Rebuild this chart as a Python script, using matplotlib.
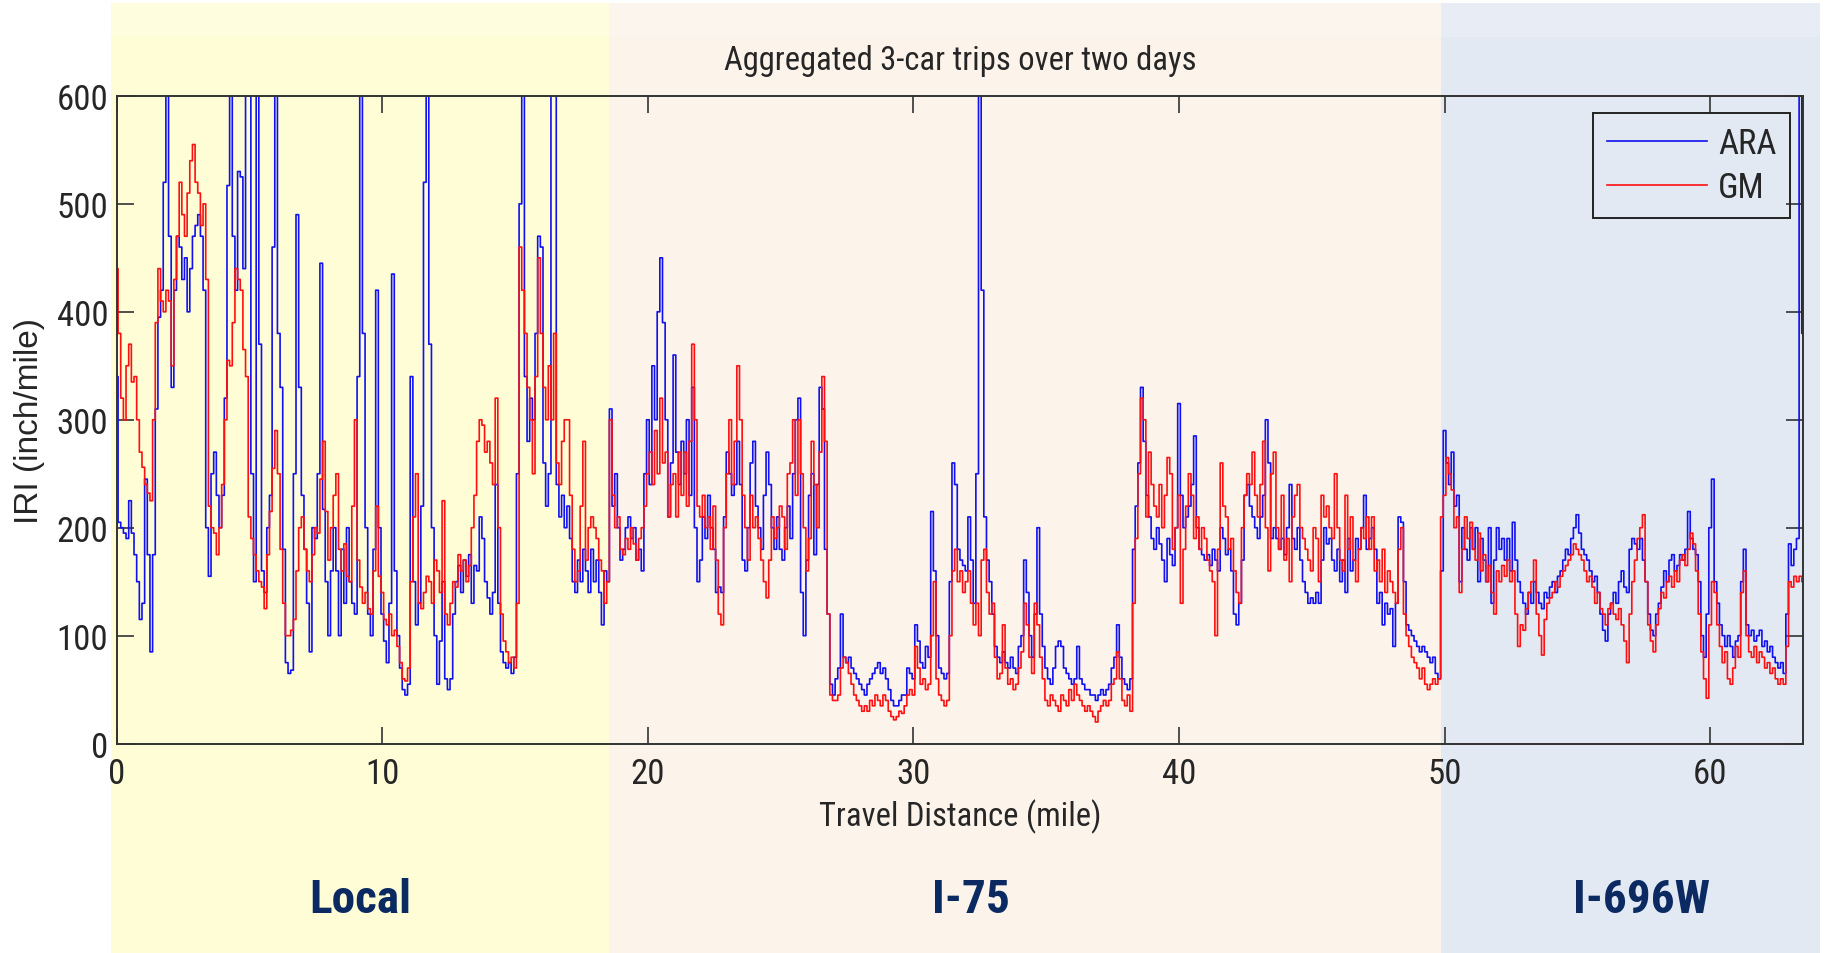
import numpy as np
import matplotlib
matplotlib.use("Agg")
import matplotlib.pyplot as plt
import matplotlib.transforms as mtransforms
from matplotlib import font_manager

# IRI readings every 0.1 mile, one row per mile, split by road section
ara_local = [
    340, 205, 200, 195, 190, 225, 195, 175, 150, 115,
    130, 245, 175, 85, 175, 310, 395, 420, 520, 600,
    470, 330, 420, 470, 460, 430, 450, 400, 440, 470,
    480, 490, 470, 420, 200, 155, 250, 270, 230, 200,
    230, 320, 517, 600, 470, 420, 530, 525, 440, 600,
    600, 250, 150, 600, 370, 160, 140, 200, 230, 460,
    600, 380, 330, 180, 75, 65, 68, 250, 490, 330,
    230, 180, 130, 85, 200, 190, 250, 445, 217, 150,
    100, 160, 200, 160, 100, 180, 130, 200, 150, 130,
    120, 340, 600, 380, 200, 120, 100, 180, 420, 200,
    120, 95, 75, 130, 435, 160, 100, 70, 50, 45,
    55, 340, 150, 110, 130, 220, 520, 600, 370, 200,
    100, 55, 95, 150, 60, 50, 60, 120, 150, 165,
    140, 170, 155, 175, 130, 165, 160, 210, 190, 150,
    135, 120, 140, 240, 130, 85, 75, 70, 75, 65,
    80, 250, 500, 600, 340, 280, 320, 300, 380, 470,
    460, 260, 220, 250, 600, 600, 240, 210, 230, 200,
    220, 190, 150, 140, 170, 150, 180, 160, 140, 180,
    150, 170, 140, 110, 160, 150,
]
gm_local = [
    440, 380, 320, 300, 350, 370, 335, 340, 300, 270,
    256, 240, 232, 225, 300, 390, 440, 410, 400, 420,
    410, 350, 430, 470, 520, 490, 470, 510, 540, 555,
    520, 510, 480, 500, 430, 220, 200, 195, 175, 200,
    240, 300, 355, 350, 390, 440, 430, 420, 365, 340,
    210, 190, 175, 160, 150, 145, 125, 175, 215, 255,
    290, 250, 180, 130, 100, 100, 105, 115, 160, 200,
    210, 180, 160, 150, 175, 200, 195, 245, 280, 215,
    170, 200, 230, 250, 180, 160, 185, 155, 150, 220,
    300, 170, 145, 130, 140, 125, 120, 160, 220, 155,
    140, 115, 110, 120, 100, 105, 90, 75, 60, 58,
    70, 150, 210, 250, 130, 125, 140, 155, 150, 130,
    170, 160, 140, 225, 120, 110, 130, 150, 145, 175,
    160, 170, 150, 165, 200, 230, 280, 300, 295, 270,
    280, 260, 240, 320, 200, 120, 95, 85, 75, 80,
    70, 130, 460, 420, 380, 330, 300, 250, 340, 450,
    380, 330, 300, 350, 300, 380, 260, 240, 280, 300,
    300, 230, 180, 150, 160, 220, 280, 170, 200, 210,
    200, 190, 170, 160, 130, 150,
]
ara_i75 = [
    310, 220, 250, 200,
    170, 180, 200, 210, 190, 200, 170, 180, 160, 250,
    300, 240, 350, 300, 400, 450, 390, 300, 210, 260,
    360, 270, 240, 280, 250, 300, 230, 330, 200, 150,
    170, 210, 190, 230, 200, 180, 140, 145, 140, 210,
    270, 250, 230, 240, 280, 240, 170, 160, 200, 260,
    280, 220, 200, 180, 230, 270, 240, 200, 180, 210,
    180, 170, 200, 220, 190, 250, 300, 320, 140, 100,
    170, 230, 250, 175, 240, 330, 310, 180, 120, 55,
    45, 60, 70, 120, 80, 75, 80, 70, 65, 60,
    55, 50, 45, 55, 60, 65, 70, 75, 65, 70,
    60, 50, 40, 35, 35, 40, 45, 45, 70, 65,
    60, 110, 95, 75, 70, 90, 80, 215, 160, 100,
    70, 65, 60, 65, 150, 260, 240, 180, 170, 165,
    160, 210, 170, 130, 250, 600, 420, 210, 170, 150,
    120, 90, 80, 75, 85, 75, 70, 80, 70, 65,
    90, 100, 170, 140, 100, 80, 120, 200, 120, 90,
    70, 60, 55, 70, 90, 95, 90, 70, 65, 60,
    55, 60, 90, 60, 55, 50, 50, 45, 45, 40,
    45, 50, 45, 50, 55, 70, 80, 110, 80, 60,
    55, 50, 60, 180, 220, 260, 330, 280, 230, 210,
    190, 180, 200, 185, 170, 150, 190, 175, 165, 200,
    315, 230, 200, 210, 220, 240, 285, 200, 180, 175,
    170, 175, 165, 180, 170, 160, 200, 190, 175, 180,
    160, 120, 110, 130, 170, 230, 240, 220, 210, 200,
    190, 210, 230, 300, 260, 190, 200, 190, 180, 190,
    175, 200, 240, 190, 180, 200, 170, 150, 140, 130,
    135, 130, 140, 130, 170, 200, 185, 190, 170, 160,
    180, 150, 170, 140, 190, 160, 170, 190, 180, 200,
    230, 180, 190, 200, 180, 130, 140, 110, 130, 120,
    125, 90, 130, 210, 205, 150, 110, 105, 100, 95,
    90, 85, 90, 85, 80, 75, 80, 65, 60, 160,
]
gm_i75 = [
    300, 230, 200, 210,
    180, 175, 190, 180, 200, 185, 170, 190, 200, 220,
    250, 270, 240, 290, 250, 320, 260, 270, 210, 240,
    250, 210, 270, 230, 270, 220, 280, 370, 300, 220,
    210, 230, 200, 210, 180, 220, 170, 120, 110, 200,
    250, 300, 240, 280, 350, 300, 230, 200, 170, 230,
    200, 210, 190, 170, 150, 135, 170, 210, 190, 200,
    220, 210, 180, 250, 260, 300, 230, 300, 250, 200,
    160, 190, 280, 240, 200, 270, 340, 280, 120, 45,
    40, 40, 45, 70, 80, 75, 65, 55, 45, 40,
    35, 30, 35, 30, 40, 35, 45, 40, 35, 45,
    40, 30, 25, 22, 25, 30, 28, 35, 45, 50,
    45, 90, 70, 55, 60, 50, 55, 100, 150, 60,
    45, 40, 35, 40, 100, 160, 180, 150, 160, 140,
    150, 160, 130, 110, 130, 100, 170, 180, 140, 120,
    130, 80, 60, 65, 110, 70, 55, 60, 50, 55,
    70, 85, 130, 110, 80, 65, 130, 110, 80, 60,
    40, 35, 45, 40, 35, 30, 45, 40, 35, 50,
    40, 55, 45, 40, 35, 30, 35, 30, 25, 20,
    30, 35, 40, 35, 40, 55, 60, 85, 60, 40,
    35, 45, 30, 130, 190, 250, 320, 300, 210, 270,
    240, 220, 210, 240, 200, 230, 265, 250, 180, 200,
    230, 130, 180, 220, 250, 230, 190, 210, 180, 200,
    190, 170, 160, 150, 100, 180, 260, 220, 210, 180,
    190, 160, 140, 130, 200, 230, 250, 240, 270, 230,
    210, 240, 280, 200, 160, 250, 270, 200, 180, 230,
    170, 190, 150, 210, 230, 240, 200, 190, 180, 170,
    160, 200, 190, 150, 230, 210, 220, 200, 190, 250,
    200, 170, 160, 230, 180, 210, 170, 150, 180, 200,
    190, 210, 180, 210, 160, 170, 150, 180, 140, 160,
    150, 140, 130, 180, 200, 120, 100, 90, 80, 75,
    70, 60, 70, 55, 50, 55, 60, 55, 60, 210,
]
ara_i696 = [
    290, 260, 240, 270, 220, 230, 150, 200, 180, 170,
    200, 180, 200, 150, 190, 170, 150, 200, 130, 170,
    200, 180, 190, 170, 190, 160, 205, 170, 150, 140,
    130, 120, 140, 130, 150, 140, 130, 125, 140, 135,
    145, 150, 140, 155, 160, 170, 180, 175, 190, 200,
    212, 195, 180, 175, 170, 160, 150, 155, 140, 120,
    105, 95, 120, 130, 140, 130, 150, 160, 145, 140,
    180, 190, 185, 180, 190, 170, 150, 120, 105, 100,
    120, 130, 145, 160, 150, 170, 175, 160, 165, 175,
    170, 180, 215, 190, 180, 175, 150, 100, 80, 120,
    200, 245, 150, 130, 110, 100, 90, 100, 90, 80,
    95, 100, 150, 180, 110, 100, 105, 95, 100, 105,
    90, 95, 85, 90, 80, 75, 70, 75, 65, 120,
    185, 165, 180, 190, 600, 380,
]
gm_i696 = [
    230, 265, 250, 235, 200, 210, 140, 180, 210, 190,
    205, 180, 170, 195, 160, 175, 150, 165, 140, 120,
    160, 150, 165, 155, 170, 150, 160, 120, 90, 110,
    105, 125, 140, 150, 170, 120, 100, 82, 115, 130,
    135, 140, 150, 145, 155, 160, 165, 170, 175, 185,
    180, 175, 170, 160, 150, 155, 145, 130, 140, 125,
    120, 110, 125, 130, 120, 115, 125, 110, 95, 75,
    120, 150, 170, 190, 200, 212, 150, 110, 95, 85,
    110, 125, 140, 135, 150, 155, 145, 160, 150, 170,
    175, 165, 180, 195, 185, 160, 120, 85, 60, 42,
    110, 150, 140, 110, 90, 75, 85, 60, 55, 70,
    90, 80, 140, 160, 100, 85, 80, 90, 75, 85,
    80, 70, 75, 65, 70, 60, 55, 60, 55, 90,
    150, 145, 155, 150, 155, 150,
]
step_mile = 0.1

sections = ["Local", "I-75", "I-696W"]
section_edges = [-0.22, 18.53, 49.86, 64.13]
section_colors = ["#FEFDD6", "#FCF3EA", "#E2E9F3"]
section_label_x = [9.18, 32.15, 57.4]

ara = np.array(ara_local + ara_i75 + ara_i696, dtype=float)
gm = np.array(gm_local + gm_i75 + gm_i696, dtype=float)
dist = np.arange(len(ara)) * step_mile

# narrow fonts if the machine has them, otherwise plain Liberation Sans
installed = {f.name for f in font_manager.fontManager.ttflist}
narrow = [n for n in ["Liberation Sans Narrow", "Roboto Condensed", "DejaVu Sans Condensed"]
          if n in installed]
have_narrow = len(narrow) > 0
base_font = narrow[0] if have_narrow else "Liberation Sans"
plt.rcParams["font.family"] = [base_font, "Liberation Sans"]
shrink = 1.0 if have_narrow else 0.9

fig = plt.figure(figsize=(18.3, 9.54), dpi=100)
ax = fig.add_axes([0.0638, 0.2195, 0.9215, 0.6789])
ax.set_facecolor("none")

# coloured road-section bands reaching beyond the axes
for lo, hi, c in zip(section_edges[:-1], section_edges[1:], section_colors):
    ax.axvspan(lo, hi, ymin=-0.3233, ymax=1.1434, color=c, lw=0, clip_on=False, zorder=0)
ax.axvspan(section_edges[0], section_edges[-1], ymin=1.0909, ymax=1.1434,
           color="white", alpha=0.18, lw=0, clip_on=False, zorder=0)

ax.plot(dist, ara, color="#1010F0", lw=1.2, drawstyle="steps-mid", label="ARA")
ax.plot(dist, gm, color="#FF1010", lw=1.2, drawstyle="steps-mid", label="GM")

ax.set_xlim(0, 63.5)
ax.set_ylim(0, 600)
ax.set_xticks(range(0, 61, 10))
ax.set_yticks(range(0, 601, 100))
ax.tick_params(direction="in", length=12, width=1.2, top=True, right=True,
               labelsize=25 * shrink, colors="#333333", labelcolor="#262626")
ax.tick_params(axis="y", pad=6)
ax.tick_params(axis="x", pad=10)
for s in ax.spines.values():
    s.set_color("#333333")
    s.set_linewidth(1.4)

ax.text(0.5, 1.056, "Aggregated 3-car trips over two days", transform=ax.transAxes,
        ha="center", va="center", fontsize=23.5 if have_narrow else 21.5, color="#262626")
ax.text(0.5, -0.112, "Travel Distance (mile)", transform=ax.transAxes,
        ha="center", va="center", fontsize=23.5 if have_narrow else 21, color="#262626")
ax.text(-0.052, 0.5, "IRI (inch/mile)", transform=ax.transAxes, rotation=90,
        ha="center", va="center", fontsize=24, color="#262626",
        family="Liberation Sans")

trans = mtransforms.blended_transform_factory(ax.transData, ax.transAxes)
for name, xc in zip(sections, section_label_x):
    ax.text(xc, -0.24, name, transform=trans, ha="center", va="center",
            fontsize=34 if have_narrow else 30, fontweight="bold", color="#0B2A62")

leg = ax.legend(loc="upper right", bbox_to_anchor=(0.9923, 0.9738), borderaxespad=0,
                fontsize=25 * shrink, handlelength=2.9, handletextpad=0.3,
                labelspacing=0.32, borderpad=0.4, fancybox=False, framealpha=1,
                facecolor="none", edgecolor="#222222")
leg.get_frame().set_linewidth(1.4)
for t in leg.get_texts():
    t.set_color("#262626")

fig.savefig("out.png", dpi=100, facecolor="white")
